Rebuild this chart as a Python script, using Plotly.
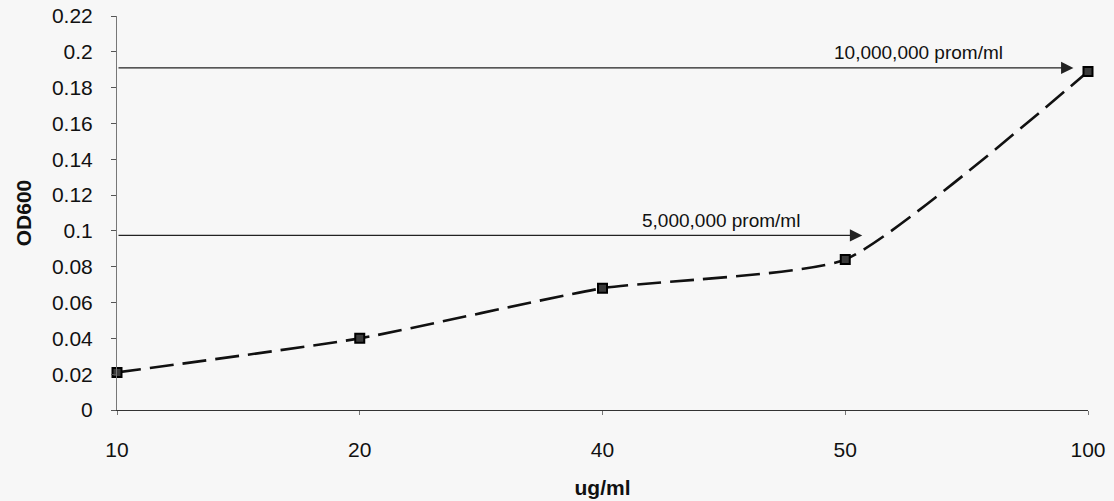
import plotly.graph_objects as go

categories = ["10", "20", "40", "50", "100"]
od600 = [0.021, 0.040, 0.068, 0.084, 0.189]
y_ticks = [0, 0.02, 0.04, 0.06, 0.08, 0.1, 0.12, 0.14, 0.16, 0.18, 0.2, 0.22]
y_tick_labels = ["0", "0.02", "0.04", "0.06", "0.08", "0.1", "0.12", "0.14", "0.16", "0.18", "0.2", "0.22"]
arrow_labels = ["10,000,000 prom/ml", "5,000,000 prom/ml"]
arrow_levels = [0.191, 0.0975]
arrow_tips = [3.94, 3.07]
label_pos = [(3.30, 0.1995), (2.49, 0.106)]

xidx = list(range(len(categories)))

fig = go.Figure()
fig.add_trace(go.Scatter(
    x=xidx, y=od600, mode="lines+markers", cliponaxis=False,
    line=dict(color="#111111", width=2.6, dash="24px,9px", shape="spline", smoothing=0.5),
    marker=dict(symbol="square", size=9, color="#3a3a3a", line=dict(color="#000000", width=2)),
    showlegend=False,
))

annotations = []
for lab, lvl, tip, (lx, ly) in zip(arrow_labels, arrow_levels, arrow_tips, label_pos):
    annotations.append(dict(
        x=tip, y=lvl, ax=0, ay=lvl, xref="x", yref="y", axref="x", ayref="y",
        text="", showarrow=True, arrowhead=2, arrowsize=1.9, arrowwidth=1.3,
        arrowcolor="#222222",
    ))
    annotations.append(dict(
        x=lx, y=ly, xref="x", yref="y", text=lab, showarrow=False,
        font=dict(family="Liberation Sans, Arial", size=19, color="#111111"),
    ))

fig.update_layout(
    width=1114, height=501,
    margin=dict(l=117, r=26, t=16, b=91, autoexpand=False),
    paper_bgcolor="#f7f7f7", plot_bgcolor="#f7f7f7",
    font=dict(family="Liberation Sans, Arial", size=21, color="#111111"),
    annotations=annotations,
    xaxis=dict(
        range=[0, 4], tickvals=xidx, ticktext=categories, automargin=False,
        showgrid=False, zeroline=False, showline=True, linecolor="#333333", linewidth=1.2,
        ticks="outside", ticklen=4, tickcolor="#777777", ticklabelstandoff=17,
        title=dict(text="<b>ug/ml</b>", font=dict(size=21), standoff=20),
        tickfont=dict(size=21),
    ),
    yaxis=dict(
        range=[0, 0.22], tickvals=y_ticks, ticktext=y_tick_labels, automargin=False,
        showgrid=False, zeroline=False, showline=True, linecolor="#777777", linewidth=1,
        ticks="outside", ticklen=5, tickcolor="#555555", ticklabelstandoff=14,
        title=dict(text="<b>OD600</b>", font=dict(size=21), standoff=14),
        tickfont=dict(size=21),
    ),
)

fig.write_html(
    "out.html",
    config={"displayModeBar": False},
    post_script="document.body.style.margin='0';document.body.style.background='#f7f7f7';",
)
